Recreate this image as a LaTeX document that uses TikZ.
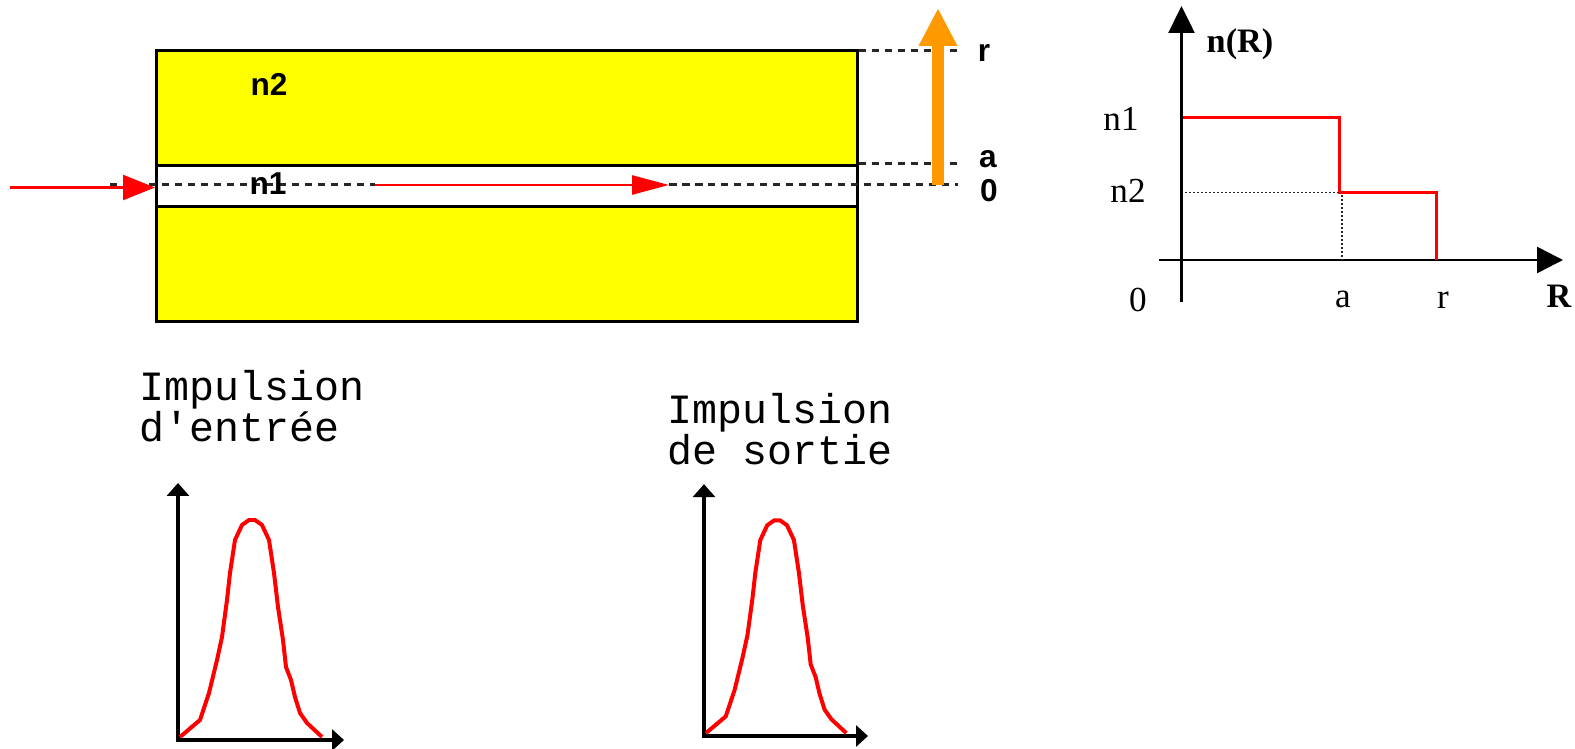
\documentclass[tikz,border=0pt]{standalone}
\usepackage{fontspec}
\setmainfont{Liberation Serif}
\setsansfont{Liberation Sans}
\setmonofont{Liberation Mono}
\usepackage{xcolor}
\usetikzlibrary{arrows.meta, positioning, calc}
\definecolor{fibreyellow}{RGB}{255,255,0}
\definecolor{raised}{RGB}{255,153,0}

\begin{document}
\begin{tikzpicture}[
	x=0.02cm, y=-0.02cm,
	clad/.style={rectangle, draw=black, fill=fibreyellow, line width=0.05cm, minimum width=14.02cm, minimum height=5.43cm, inner sep=0pt},
	coreband/.style={rectangle, draw=black, fill=white, line width=0.05cm, minimum width=14.02cm, minimum height=0.82cm, inner sep=0pt},
	guide/.style={black!85, line width=0.06cm, dash pattern=on 0.15cm off 0.11cm},
	ray/.style={red, line width=0.05cm},
	axis/.style={black, line width=0.05cm},
	step curve/.style={red, line width=0.06cm},
	thin dots/.style={black!85, line width=0.035cm, dash pattern=on 0.035cm off 0.045cm},
	sanslabel/.style={font=\sffamily\bfseries\fontsize{18}{20}\selectfont, inner sep=0pt},
	seriflabel/.style={font=\fontsize{20}{22}\selectfont, inner sep=0pt},
	boldlabel/.style={font=\bfseries\fontsize{19.5}{21}\selectfont, inner sep=0pt},
	pixeltitle/.style={font=\ttfamily\fontsize{23.7}{21.5}\selectfont, align=left, inner sep=0pt},
	pulse/.pic={
		\draw[axis, line width=0.08cm, -{Triangle[length=0.26cm, width=0.44cm]}] (0,2) -- (0,-257);
		\draw[axis, line width=0.08cm, -{Triangle[length=0.24cm, width=0.42cm]}] (-2,0) -- (166,0);
		\draw[red, line width=0.08cm] (2,-3) -- (22,-20) -- (31,-47) -- (39,-80) -- (44,-103) -- (49,-140) -- (52,-167) -- (57,-200) -- (64,-215) -- (71,-220) -- (77,-220) -- (84,-215) -- (91,-200) -- (96,-167) -- (100,-133) -- (105,-100) -- (108,-73) -- (113,-60) -- (117,-43) -- (122,-27) -- (129,-17) -- (144,-3);
	}
	]
	\useasboundingbox (0,0) rectangle (1575,749);
	% Fibre
	\node[clad] (fibre) at (507,186) {};
	\node[coreband] (core) at (507,186) {};
	\node[sanslabel] (ntwo) at (269,84) {n2};
	% Heights on the right
	\coordinate (rend) at (958,50.5);
	\coordinate (aend) at (958,163.5);
	\coordinate (zend) at (958,185);
	\coordinate (zstart) at (110,185);
	\coordinate (raystart) at (375,185);
	\coordinate (rayend) at (669,185);
	\coordinate (instart) at (10,187.5);
	\coordinate (inend) at (155,187.5);
	\coordinate (uptip) at (938,8);
	\coordinate (upstart) at (938,185);
	\draw[guide] (fibre.east |- rend) -- (rend);
	\draw[guide] (fibre.east |- aend) -- (aend);
	\draw[guide] (zstart) -- (raystart);
	\draw[guide] (rayend) -- (zend);
	\node[sanslabel] (none) at (268,184) {n1};
	\node[sanslabel] (rlabel) at (984,53) {r};
	\node[sanslabel] (alabel) at (988,159) {a};
	\node[sanslabel] (zlabel) at (989,191) {0};
	% Rays
	\draw[ray, -{Triangle[length=0.64cm, width=0.5cm]}] (instart) -- (inend);
	\draw[ray, -{Triangle[length=0.74cm, width=0.38cm]}] (raystart) -- (rayend);
	\draw[raised, line width=0.254cm, -{Triangle[length=0.76cm, width=0.72cm]}] (upstart) -- (uptip);
	% Index profile
	\coordinate (orig) at (1181.5,260);
	\coordinate (ytop) at (1181.5,6);
	\coordinate (ybot) at (1181.5,302);
	\coordinate (xleft) at (1159,260);
	\coordinate (xright) at (1563,260);
	\coordinate (pone) at (1183,117.5);
	\coordinate (pa) at (1339.5,117.5);
	\coordinate (pb) at (1339.5,192.5);
	\coordinate (pc) at (1436,192.5);
	\coordinate (pd) at (1436,260);
	\coordinate (dotleft) at (1185,192.5);
	\coordinate (dottop) at (1342,195);
	\coordinate (dotbot) at (1342,260);
	\draw[axis, -{Triangle[length=0.54cm, width=0.52cm]}] (ybot) -- (ytop);
	\draw[axis, -{Triangle[length=0.52cm, width=0.52cm]}] (xleft) -- (xright);
	\draw[step curve] (pone) -- (pa) -- (pb) -- (pc) -- (pd);
	\draw[thin dots] (dotleft) -- (pb);
	\draw[thin dots] (dottop) -- (dotbot);
	\node[seriflabel] (noneaxis) at (1121,119) {n1};
	\node[seriflabel] (ntwoaxis) at (1128,191) {n2};
	\node[seriflabel] (zero) at (1138,300) {0};
	\node[seriflabel] (aaxis) at (1343,299) {a};
	\node[seriflabel] (raxis) at (1443,300) {r};
	\node[boldlabel] (nR) at (1240,44) {n(R)};
	\node[boldlabel] (Raxis) at (1559,296) {R};
	% Pulses
	\node[pixeltitle] (intitle) at (252,406) {Impulsion\\d'entrée};
	\node[pixeltitle] (outtitle) at (780,429) {Impulsion\\de sortie};
	\pic at (178,740) {pulse};
	\pic[xscale=0.988, yscale=0.98] at (704,736) {pulse};
\end{tikzpicture}
\end{document}
